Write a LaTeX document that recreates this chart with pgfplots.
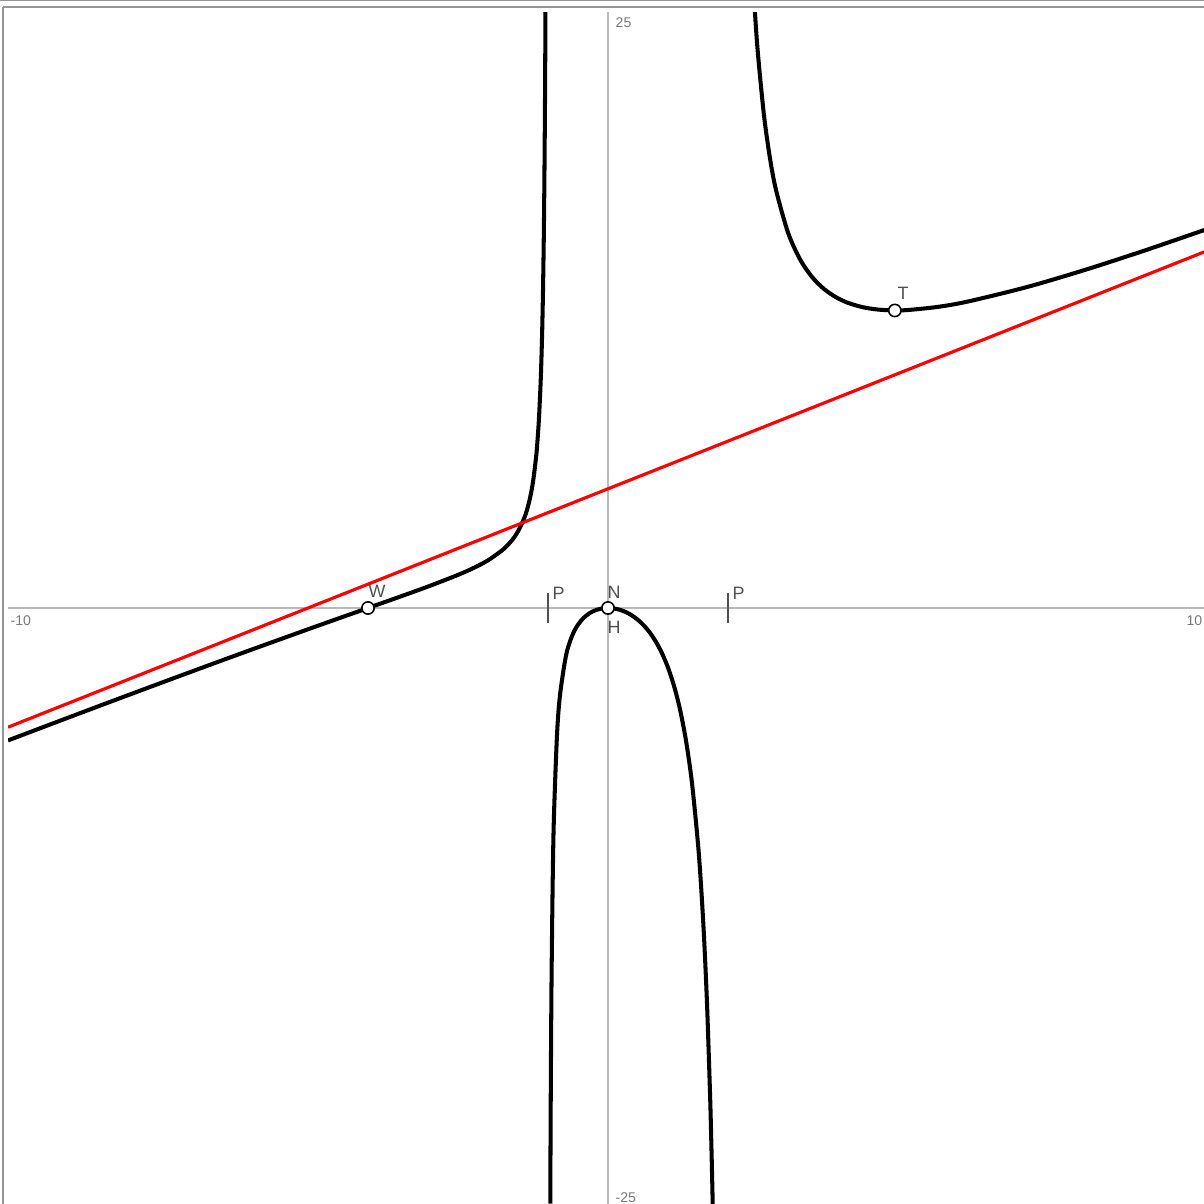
\documentclass[border=0pt]{standalone}
\usepackage{fontspec}
\setmainfont{Liberation Sans}
\usepackage{pgfplots}
\pgfplotsset{compat=1.18}
\definecolor{axgray}{RGB}{185,185,185}
\definecolor{framegray}{RGB}{150,150,150}
\definecolor{numgray}{RGB}{120,120,120}
\definecolor{lblgray}{RGB}{80,80,80}
\newcommand{\numfont}{\fontsize{4}{4}\selectfont}
\newcommand{\lblfont}{\fontsize{5.1}{5.1}\selectfont}

\begin{document}
\begin{tikzpicture}
\begin{axis}[
  at={(0,0)}, anchor=south west,
  scale only axis, width=12cm, height=11.92cm,
  xmin=-10, xmax=10, ymin=-25, ymax=25,
  axis lines=middle,
  axis line style={-, draw=axgray, line width=0.6pt},
  xtick=\empty, ytick=\empty,
  clip mode=individual,
]
% f(x) = x^2(x+4)/((x+1)(x-2))
\addplot[black, line width=1.15pt, smooth] coordinates {
  (-10,-5.5556) (-9,-4.6023) (-8,-3.6571) (-7,-2.7222) (-6,-1.8)
  (-5,-0.8929) (-4.5,-0.4451) (-4,0) (-3.5,0.4455) (-3,0.9) (-2.5,1.3889)
  (-2.25,1.6676) (-2,2) (-1.75,2.45) (-1.6,2.8444) (-1.5,3.2143)
  (-1.4,3.7471) (-1.35,4.1191) (-1.3,4.6091) (-1.25,5.2885) (-1.2,6.3)
  (-1.18,6.860) (-1.15,7.977) (-1.12,9.649) (-1.1,11.319) (-1.09,12.432)
  (-1.08,13.823) (-1.07,15.610) (-1.06,17.993) (-1.05,21.327)
  (-1.045,23.550) (-1.04,26.33) (-1.035,29.90)
};
\addplot[black, line width=1.15pt, smooth] coordinates {
  (-0.962,-24.98) (-0.96,-23.66) (-0.955,-20.885) (-0.95,-18.662)
  (-0.94,-15.328) (-0.92,-11.160) (-0.9,-8.659) (-0.85,-5.3237)
  (-0.8,-3.6571) (-0.7,-1.9963) (-0.6,-1.1769) (-0.5,-0.7) (-0.4,-0.4)
  (-0.3,-0.2068) (-0.2,-0.0864) (-0.1,-0.0206) (0,0) (0.1,-0.0196)
  (0.2,-0.0778) (0.3,-0.1751) (0.4,-0.3143) (0.5,-0.5) (0.6,-0.7393)
  (0.7,-1.0421) (0.8,-1.4222) (0.9,-1.8990) (1.0,-2.5) (1.1,-3.2651)
  (1.2,-4.2545) (1.3,-5.5634) (1.4,-7.35) (1.5,-9.9) (1.55,-11.620)
  (1.6,-13.785) (1.65,-16.584) (1.7,-20.337) (1.72,-22.219)
  (1.74,-24.39) (1.75,-25.61)
};
\addplot[black, line width=1.15pt, smooth] coordinates {
  (2.4,27.11) (2.45,24.94) (2.5,23.214) (2.6,20.656) (2.7,18.858)
  (2.8,17.537) (3.0,15.75) (3.2,14.629) (3.4,13.887) (3.6,13.383)
  (3.8,13.036) (4.0,12.8) (4.25,12.615) (4.5,12.518) (4.75,12.485)
  (5.0,12.5) (5.5,12.632) (6,12.857) (7,13.475) (8,14.222) (9,15.043)
  (10,15.909)
};
% asymptote y = x + 5
\addplot[red, line width=0.9pt] coordinates {(-10,-5) (10,15)};
% poles
\addplot[only marks, mark=|, mark size=4.3pt, mark options={draw=lblgray, line width=0.55pt}]
  coordinates {(-1,0) (2,0)};
% special points
\addplot[only marks, mark=*, mark size=1.75pt, mark options={fill=white, draw=black, line width=0.45pt}]
  coordinates {(-4,0) (0,0) (4.78,12.48)};

\node[anchor=south west, inner sep=0, text=lblgray, font=\lblfont] at (axis cs:-1,0) [xshift=0.04cm, yshift=0.08cm] {P};
\node[anchor=south west, inner sep=0, text=lblgray, font=\lblfont] at (axis cs:2,0) [xshift=0.04cm, yshift=0.08cm] {P};
\node[anchor=south west, inner sep=0, text=lblgray, font=\lblfont] at (axis cs:0,0) [xshift=-0.01cm, yshift=0.09cm] {N};
\node[anchor=north west, inner sep=0, text=lblgray, font=\lblfont] at (axis cs:0,0) [xshift=-0.01cm, yshift=-0.12cm] {H};
\node[anchor=south west, inner sep=0, text=lblgray, font=\lblfont] at (axis cs:-4,0) [xshift=0cm, yshift=0.1cm] {W};
\node[anchor=south west, inner sep=0, text=lblgray, font=\lblfont] at (axis cs:4.78,12.48) [xshift=0.02cm, yshift=0.1cm] {T};

\node[anchor=north west, inner sep=0, text=numgray, font=\numfont] at (axis cs:-10,0) [xshift=0.02cm, yshift=-0.07cm] {-10};
\node[anchor=north east, inner sep=0, text=numgray, font=\numfont] at (axis cs:10,0) [xshift=-0.05cm, yshift=-0.07cm] {10};
\node[anchor=north west, inner sep=0, text=numgray, font=\numfont] at (axis cs:0,25) [xshift=0.07cm, yshift=-0.05cm] {25};
\node[anchor=south west, inner sep=0, text=numgray, font=\numfont] at (axis cs:0,-25) [xshift=0.07cm, yshift=0.01cm] {-25};
\end{axis}
% window frame
\draw[framegray, line width=0.3pt] (-0.08,12.035) -- (11.96,12.035);
\draw[framegray, line width=0.55pt] (-0.05,11.97) -- (11.96,11.97);
\draw[framegray, line width=0.55pt] (-0.05,11.97) -- (-0.05,0);
\pgfresetboundingbox
\useasboundingbox (-0.08,0) rectangle (11.96,12.04);
\end{tikzpicture}
\end{document}
